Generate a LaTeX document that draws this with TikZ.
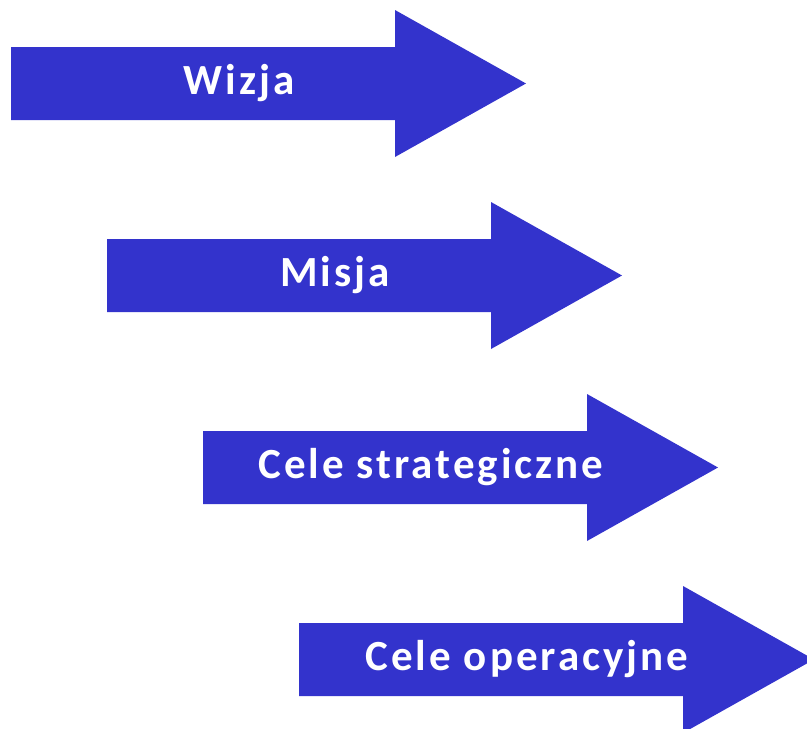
\documentclass[tikz,border=0pt]{standalone}
\usepackage{fontspec}
\setmainfont{Carlito}
\newfontfamily\arrowfont[LetterSpace=7]{Carlito}
\definecolor{arrowblue}{RGB}{51,51,204}
\tikzset{
  blockarrow/.style={fill=arrowblue,draw=none},
  arrowlabel/.style={text=white,anchor=base,inner sep=0pt,font=\arrowfont\bfseries\fontsize{43}{50}\selectfont}
}
\begin{document}
\begin{tikzpicture}[x=1pt,y=-1pt,line join=miter]
			\useasboundingbox (0,0) rectangle (807,729);
			\clip (0,0) rectangle (807,729);
			\fill [blockarrow] (11,47)--(395,47)--(395,10)--(526,83.5)--(395,157)--(395,120)--(11,120)--cycle;
			\fill [blockarrow] (107,239)--(491,239)--(491,202)--(622,275.5)--(491,349)--(491,312)--(107,312)--cycle;
			\fill [blockarrow] (203,431)--(587,431)--(587,394)--(718,467.5)--(587,541)--(587,504)--(203,504)--cycle;
			\fill [blockarrow] (299,623)--(683,623)--(683,586)--(814,659.5)--(683,733)--(683,696)--(299,696)--cycle;
			\node [arrowlabel] (wizja) at (239,94.5) {Wizja};
			\node [arrowlabel] (misja) at (335,286.5) {Misja};
			\node [arrowlabel] (strat) at (431,478.5) {Cele strategiczne};
			\node [arrowlabel] (oper) at (527,670.5) {Cele operacyjne};
\end{tikzpicture}
\end{document}
